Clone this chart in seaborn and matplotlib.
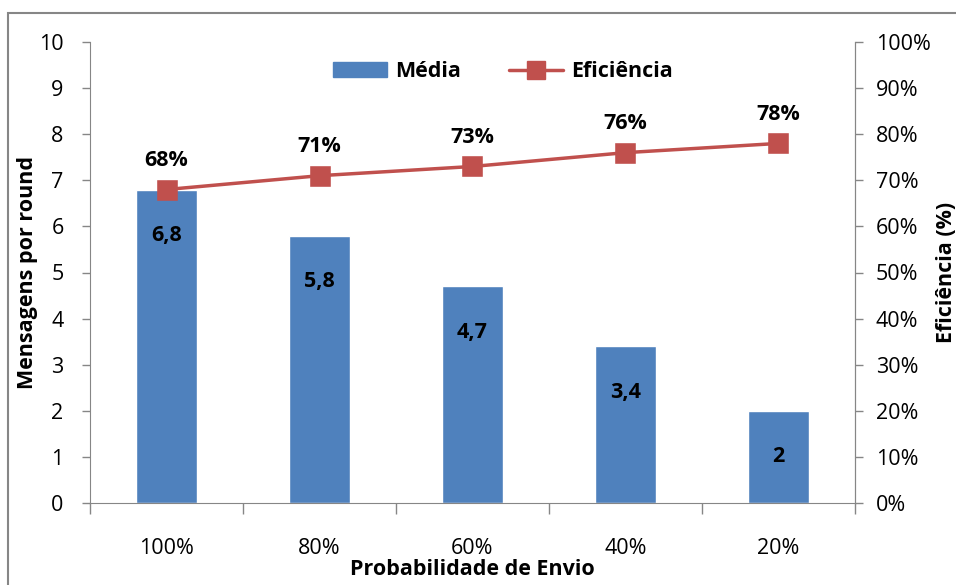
import matplotlib
matplotlib.use("Agg")
import matplotlib.pyplot as plt
import seaborn as sns
import pandas as pd
from matplotlib.patches import Rectangle
from matplotlib.lines import Line2D
from matplotlib.patches import Patch

# data
probabilidade = ["100%", "80%", "60%", "40%", "20%"]
media = [6.8, 5.8, 4.7, 3.4, 2.0]
eficiencia = [68, 71, 73, 76, 78]

BLUE = "#4F81BD"
RED = "#C0504D"
GREY = "#868686"
FS = 15.5

sns.set_style("white")
plt.rcParams["font.family"] = ["Open Sans", "DejaVu Sans"]
plt.rcParams["text.color"] = "black"
plt.rcParams["xtick.color"] = "black"
plt.rcParams["ytick.color"] = "black"
plt.rcParams["axes.labelcolor"] = "black"

df = pd.DataFrame({"Probabilidade": probabilidade, "Media": media, "Eficiencia": eficiencia})

fig = plt.figure(figsize=(9.56, 5.85), dpi=100)
ax = fig.add_axes([90 / 956, 1 - 503 / 585, 765 / 956, 461 / 585])

sns.barplot(data=df, x="Probabilidade", y="Media", color=BLUE, saturation=1,
            width=0.4, ax=ax)
ax.set_ylim(0, 10)
ax.set_xlim(-0.5, len(probabilidade) - 0.5)
ax.set_yticks(range(0, 11))
ax.set_xlabel("Probabilidade de Envio", fontsize=FS, fontweight="bold", labelpad=0)
ax.set_ylabel("Mensagens por round", fontsize=FS, fontweight="bold")
ax.yaxis.set_label_coords((38 - 90) / 765, 0.5)

# x ticks sit between categories, labels centred under bars
ax.set_xticks([i + 0.5 for i in range(-1, len(probabilidade))], minor=False)
ax.set_xticklabels([])
ax.set_xticks(range(len(probabilidade)), minor=True)
ax.set_xticklabels(probabilidade, minor=True)
ax.tick_params(axis="x", which="major", direction="out", length=8, width=1, color=GREY,
               bottom=True)
ax.tick_params(axis="x", which="minor", length=0, labelsize=FS, pad=25)
ax.tick_params(axis="y", direction="out", length=6, width=1, color=GREY, labelsize=FS,
               left=True, pad=13)

for i, v in enumerate(media):
    ax.annotate(f"{v:g}".replace(".", ","), (i, v), xytext=(0, -33),
                textcoords="offset points", ha="center", va="center",
                fontsize=FS, fontweight="bold")

ax.spines["top"].set_visible(False)
for side in ["left", "bottom", "right"]:
    ax.spines[side].set_color(GREY)

ax2 = ax.twinx()
sns.pointplot(data=df, x="Probabilidade", y="Eficiencia", color=RED, marker="s",
              markersize=13, linewidth=2.5, ax=ax2)
ax2.set_xlim(-0.5, len(probabilidade) - 0.5)
ax2.set_ylim(0, 100)
ax2.set_yticks(range(0, 101, 10))
ax2.set_yticklabels([f"{t}%" for t in range(0, 101, 10)])
ax2.set_ylabel("Eficiência (%)", fontsize=FS, fontweight="bold", rotation=90)
ax2.yaxis.set_label_coords((936 - 90) / 765, 0.5)
ax2.tick_params(axis="y", direction="out", length=6, width=1, color=GREY, labelsize=FS,
                right=True, pad=9)
ax2.set_xlabel("")
for side in ["top", "left", "bottom"]:
    ax2.spines[side].set_visible(False)
ax2.spines["right"].set_color(GREY)

for i, v in enumerate(eficiencia):
    ax2.annotate(f"{v}%", (i, v), xytext=(0, 21), textcoords="offset points",
                 ha="center", va="center", fontsize=FS, fontweight="bold")

handles = [Patch(color=BLUE, label="Média"),
           Line2D([], [], color=RED, lw=2.5, marker="s", markersize=13, label="Eficiência")]
ax.legend(handles=handles, loc="upper center", bbox_to_anchor=(0.54, 1.0), ncol=2,
          frameon=False, prop={"weight": "bold", "size": FS},
          handlelength=2.5, handletextpad=0.4, columnspacing=2.2)

# outer chart border, partly outside the image like the original
fig.add_artist(Rectangle((8 / 956, -0.1), 1.2, 1.1 - 13 / 585, transform=fig.transFigure,
                         fill=False, edgecolor=GREY, linewidth=1.5))

fig.savefig("out.png", dpi=100)
